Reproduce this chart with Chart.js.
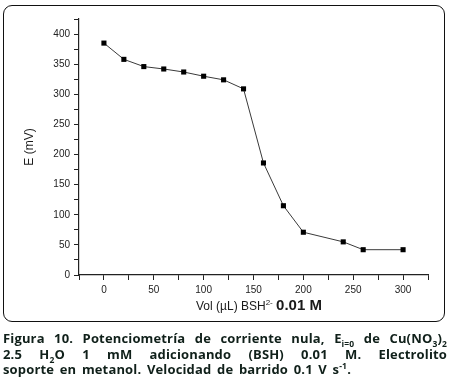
<!DOCTYPE html>
<html>
<head>
<meta charset="utf-8">
<title>Figura 10</title>
<script src="https://cdn.jsdelivr.net/npm/chart.js"></script>
<style>
  body { margin: 0; background: #fff; width: 451px; height: 387px; position: relative; overflow: hidden; }
  .frame { position: absolute; left: 3px; top: 5px; width: 440px; height: 315px; border: 1.5px solid #111; border-radius: 9px; }
  #chart { position: absolute; left: 0; top: 0; }
  .xtitle { position: absolute; left: 0; width: 518px; top: 296px; text-align: center; font-family: "Liberation Sans", Arial, sans-serif; font-size: 12px; color: #1a1a1a; white-space: nowrap; }
  .xtitle sup { font-size: 8px; }
  .xtitle b { font-size: 15px; }
  .cap { position: absolute; left: 3px; width: 444px; top: 331px; font-family: "Open Sans", sans-serif; font-weight: bold; font-size: 13px; line-height: 15.5px; letter-spacing: 0.15px; color: #10201a; }
  .cap div { text-align: justify; text-align-last: justify; white-space: nowrap; }
  .cap div.last { width: 348px; }
  .cap sub, .cap sup { font-size: 8.5px; line-height: 0; }
</style>
</head>
<body>
<div class="frame"></div>
<canvas id="chart" width="451" height="322"></canvas>
<div class="xtitle">Vol (µL) BSH<sup>2-</sup> <b>0.01 M</b></div>
<div class="cap">
  <div>Figura 10. Potenciometría de corriente nula, E<sub>i=0</sub> de Cu(NO<sub>3</sub>)<sub>2</sub></div>
  <div>2.5 H<sub>2</sub>O 1 mM adicionando (BSH) 0.01 M. Electrolito</div>
  <div class="last">soporte en metanol. Velocidad de barrido 0.1 V s<sup>-1</sup>.</div>
</div>

<script>
// volumen añadido (uL) y potencial (mV)
const volumes = [0, 20, 40, 60, 80, 100, 120, 140, 160, 180, 200, 240, 260, 300];
const potentials = [385, 358, 346, 342, 337, 330, 324, 309, 186, 115, 71, 55, 42, 42];

const xTickLabels = [0, 50, 100, 150, 200, 250, 300];
const yTickLabels = [0, 50, 100, 150, 200, 250, 300, 350, 400];

const points = volumes.map((v, i) => ({ x: v, y: potentials[i] }));

const tickFont = { family: 'Liberation Sans', size: 10 };

new Chart(document.getElementById('chart'), {
    type: 'line',
    data: {
        datasets: [{
            data: points,
            borderColor: '#3a3a3a',
            borderWidth: 1,
            pointStyle: 'rect',
            pointRadius: 3.6,
            pointBackgroundColor: '#000',
            pointBorderColor: '#000',
            pointBorderWidth: 0,
            tension: 0
        }]
    },
    options: {
        responsive: false,
        animation: false,
        layout: { padding: { top: 19, right: 23, left: 0, bottom: 0 } },
        plugins: { legend: { display: false }, tooltip: { enabled: false } },
        scales: {
            x: {
                type: 'linear',
                min: -25,
                max: 325,
                afterFit: (s) => { s.height = 47; },
                border: { color: '#222', width: 1.2 },
                grid: { drawOnChartArea: false, tickLength: 5, tickColor: '#222', tickWidth: 1 },
                ticks: {
                    stepSize: 25,
                    autoSkip: false,
                    maxRotation: 0,
                    padding: 4,
                    color: '#222',
                    font: tickFont,
                    callback: (v) => xTickLabels.includes(v) ? String(v) : ''
                }
            },
            y: {
                min: 0,
                max: 425,
                afterFit: (s) => { s.width = 79; },
                border: { color: '#222', width: 1.2 },
                grid: { drawOnChartArea: false, tickLength: 5, tickColor: '#222', tickWidth: 1 },
                ticks: {
                    stepSize: 25,
                    autoSkip: false,
                    padding: 4,
                    color: '#222',
                    font: tickFont,
                    callback: (v) => yTickLabels.includes(v) ? String(v) : ''
                },
                title: {
                    display: true,
                    text: 'E (mV)',
                    color: '#1a1a1a',
                    font: { family: 'Liberation Sans', size: 12 },
                    padding: { top: 22, bottom: 0 }
                }
            }
        }
    }
});
</script>
</body>
</html>
